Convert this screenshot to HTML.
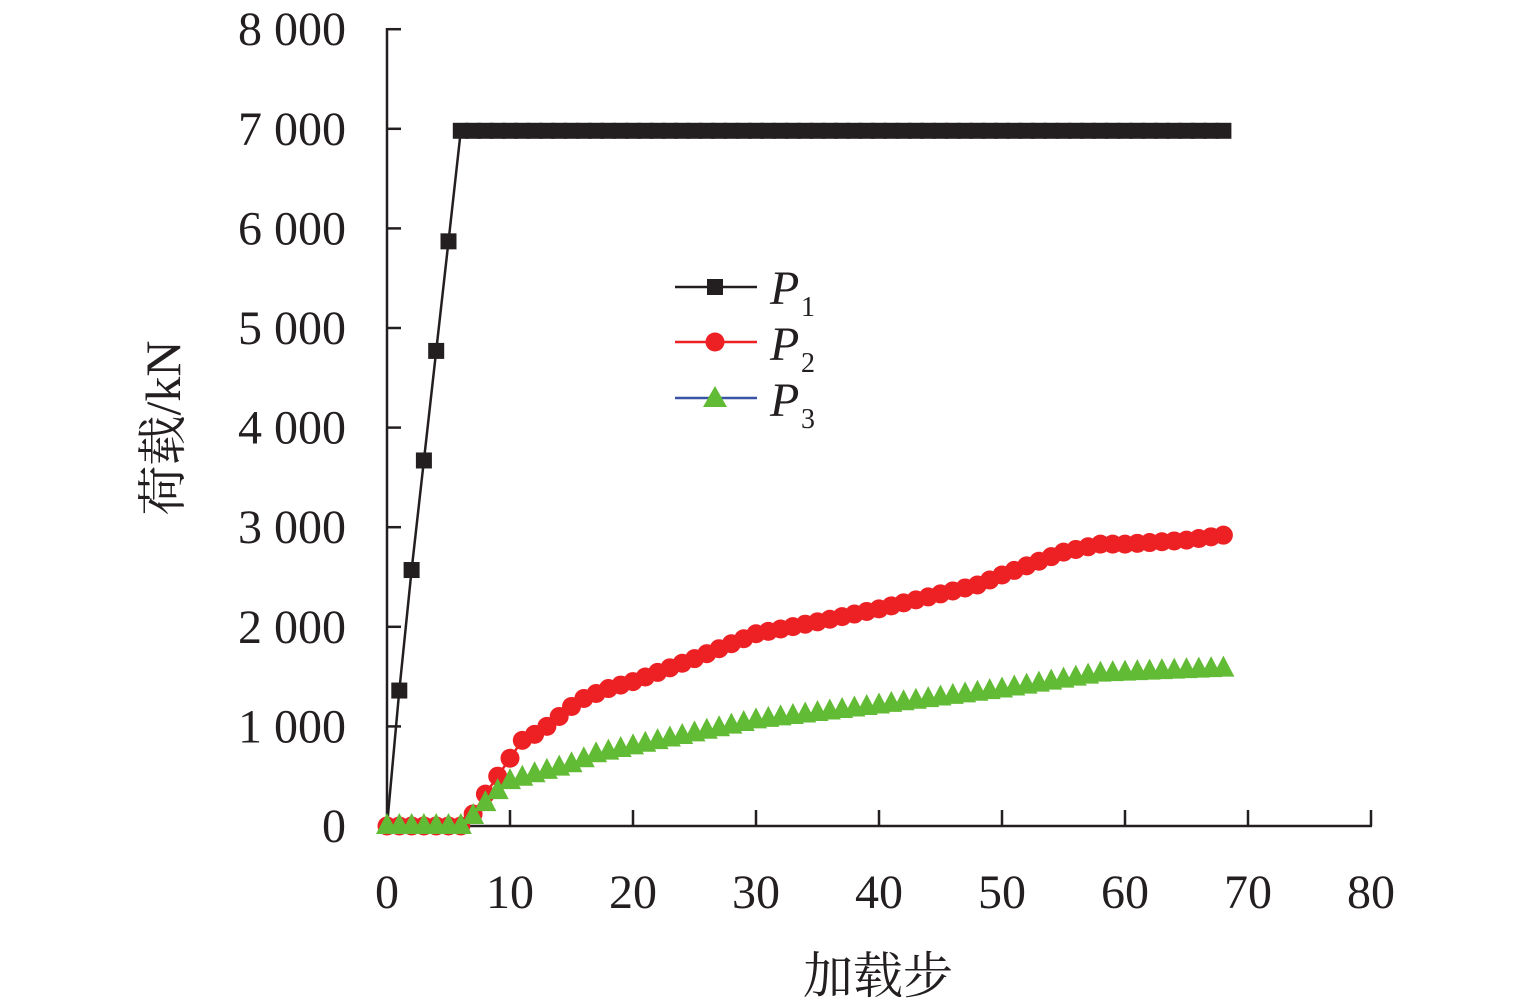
<!DOCTYPE html>
<html><head><meta charset="utf-8"><style>
html,body{margin:0;padding:0;background:#fff;}
svg text{font-family:"Liberation Serif","Noto Serif CJK SC",serif;fill:#231f20;}
</style></head><body>
<svg id="c" width="1535" height="1002" viewBox="0 0 1535 1002" xmlns="http://www.w3.org/2000/svg">
<g stroke="#231f20" stroke-width="2.5" fill="none">
<line x1="387" y1="28" x2="387" y2="827"/>
<line x1="386" y1="826" x2="1372" y2="826"/>
</g>
<g id="ticks" stroke="#231f20" stroke-width="2.5"></g>
<g id="labels" font-size="48"></g>
<text x="0" y="0" font-size="50" text-anchor="middle" transform="translate(180,428) rotate(-90)">荷载/kN</text>
<text x="878" y="993" font-size="50" text-anchor="middle">加载步</text>
<g id="series"></g>
<g id="legend">
<line x1="675" y1="287" x2="757" y2="287" stroke="#231f20" stroke-width="2.5"/>
<rect x="707" y="279" width="16" height="16" fill="#231f20"/>
<line x1="675" y1="342" x2="757" y2="342" stroke="#ed2024" stroke-width="2.5"/>
<circle cx="715" cy="342" r="9.5" fill="#ed2024"/>
<line x1="675" y1="398" x2="757" y2="398" stroke="#3a53a4" stroke-width="2.5"/>
<polygon points="703,407 727,407 715,386" fill="#62bb34"/>
<text x="770" y="304" font-size="48" font-style="italic">P</text><text x="801" y="316" font-size="28">1</text>
<text x="770" y="360" font-size="48" font-style="italic">P</text><text x="801" y="372" font-size="28">2</text>
<text x="770" y="416" font-size="48" font-style="italic">P</text><text x="801" y="428" font-size="28">3</text>
</g>
</svg>
<script>
var ns="http://www.w3.org/2000/svg";
function el(t,a,p){var e=document.createElementNS(ns,t);for(var k in a)e.setAttribute(k,a[k]);p.appendChild(e);return e;}
var X=function(s){return 387+12.3*s},Y=function(v){return 826-0.0996*v};
var tk=document.getElementById('ticks'),lb=document.getElementById('labels');
for(var i=0;i<=8;i++){var y=Y(i*1000);if(i>0)el('line',{x1:387,y1:y,x2:401,y2:y},tk);
var t=el('text',{x:346,y:y+16,'text-anchor':'end'},lb);t.textContent=i==0?'0':i+' 000';}
for(var i=0;i<=8;i++){var x=X(i*10);if(i>0)el('line',{x1:x,y1:826,x2:x,y2:810},tk);
var t=el('text',{x:x,y:908,'text-anchor':'middle'},lb);t.textContent=i*10;}
function interp(k){var out=[];for(var s=0;s<=68;s++){for(var j=0;j<k.length-1;j++){if(s>=k[j][0]&&s<=k[j+1][0]){var f=(s-k[j][0])/(k[j+1][0]-k[j][0]);out.push(k[j][1]+f*(k[j+1][1]-k[j][1]));break;}}}return out;}
var p1=interp([[0,0],[1,1360],[2,2570],[3,3670],[4,4770],[5,5870],[6,6980],[68,6980]]);
var p2=interp([[0,0],[6,0],[7,120],[8,320],[9,500],[10,680],[11,860],[12,920],[13,1000],[14,1100],[15,1200],[16,1280],[17,1330],[18,1380],[20,1450],[25,1680],[30,1930],[35,2050],[40,2180],[45,2330],[48,2420],[50,2520],[55,2750],[58,2830],[60,2830],[65,2870],[68,2920]]);
var p3=interp([[0,0],[6,0],[7,100],[8,230],[9,350],[10,450],[12,520],[15,620],[17,720],[20,800],[25,930],[30,1060],[40,1210],[50,1370],[55,1470],[58,1530],[68,1580]]);
var g=document.getElementById('series');
function pl(d,c){return el('polyline',{points:d.map(function(v,s){return X(s)+','+Y(v)}).join(' '),fill:'none',stroke:c,'stroke-width':2.5},g);}
pl(p3,'#3a53a4');pl(p2,'#ed2024');
pl(p1,'#231f20');
p1.forEach(function(v,s){if(s>0)el('rect',{x:X(s)-8,y:Y(v)-8,width:16,height:16,fill:'#231f20'},g);});
p2.forEach(function(v,s){el('circle',{cx:X(s),cy:Y(v),r:9.5,fill:'#ed2024'},g);});
p3.forEach(function(v,s){var x=X(s),y=Y(v);el('polygon',{points:(x-11)+','+(y+8)+' '+(x+11)+','+(y+8)+' '+x+','+(y-13),fill:'#62bb34'},g);});
</script>
</body></html>
